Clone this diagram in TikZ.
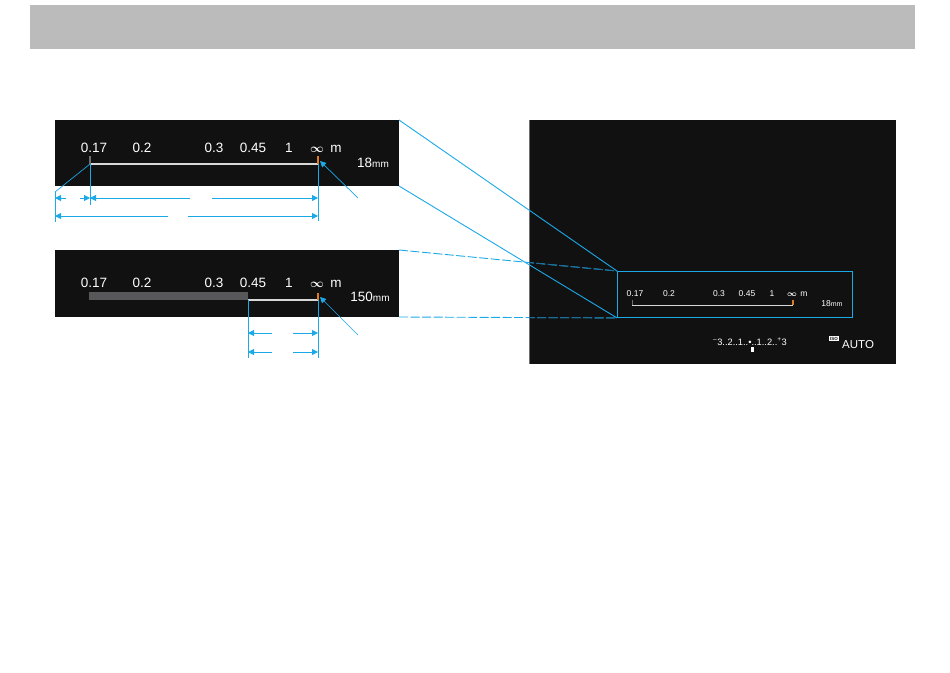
\documentclass[tikz,border=0pt]{standalone}
\usepackage{amsmath}
\usepackage{fontspec}
\setmainfont{Liberation Sans}
\usepackage{tikz}
\usetikzlibrary{arrows.meta, positioning, calc}
\definecolor{HeadGray}{HTML}{BBBBBB}
\definecolor{ScreenBlack}{HTML}{111111}
\definecolor{GuideCyan}{HTML}{1BA9E8}
\definecolor{GuideDark}{HTML}{1A6E9A}
\definecolor{TickOrange}{HTML}{E07B20}
\definecolor{TickGray}{HTML}{6E6E6E}
\definecolor{RangeGray}{HTML}{58585A}
\definecolor{BarWhite}{HTML}{D8D8D8}
\tikzset{
    % dark lcd strips
    lcd panel/.style={
        rectangle,
        fill=ScreenBlack,
        inner sep=0pt,
        outer sep=0pt,
        anchor=north west
    },
    % distance scale labels
    scale label/.style={
        text=white,
        anchor=base,
        inner sep=0pt,
        font=\fontsize{13.5}{14}\selectfont
    },
    small label/.style={
        scale label,
        font=\fontsize{8.5}{9}\selectfont
    },
    guide line/.style={
        GuideCyan,
        line width=0.9pt
    },
    guide dashed/.style={
        guide line,
        dash pattern=on 9pt off 2.5pt
    },
    dim arrow/.style={
        guide line,
        -{Triangle[length=6pt,width=6pt]}
    }
}

\begin{document}
\begin{tikzpicture}[x=1pt, y=-1pt]
        \useasboundingbox[fill=white] (0,0) rectangle (950,672);

        % header bar
        \fill[HeadGray] (30,5) rectangle (915,49);

        % Panel 1 (18mm)
        \node[lcd panel, minimum width=344pt, minimum height=66pt] (p1) at (55,120) {};
        \node[scale label] (p1a) at (94,152) {0.17};
        \node[scale label] (p1b) at (142,152) {0.2};
        \node[scale label] (p1c) at (214,152) {0.3};
        \node[scale label] (p1d) at (253,152) {0.45};
        \node[scale label] (p1e) at (289,152) {1};
        \node[scale label] (p1f) at (317,152) {\large$\boldsymbol{\infty}$};
        \node[scale label] (p1g) at (336,152) {m};
        \node[scale label] (p1z) at (373,167) {18{\fontsize{10}{10}\selectfont mm}};
        \coordinate (p1L) at (90,164);
        \coordinate (p1R) at (318,164);
        \draw[BarWhite, line width=1.6pt] (p1L) -- (p1R);
        \draw[TickGray, line width=2.4pt] (p1L) -- ++(0,-8);
        \draw[TickOrange, line width=2.4pt] (p1R) -- ++(0,-8);

        % Panel 2 (150mm)
        \node[lcd panel, minimum width=344pt, minimum height=67pt] (p2) at (55,250) {};
        \node[scale label] (p2a) at (94,287) {0.17};
        \node[scale label] (p2b) at (142,287) {0.2};
        \node[scale label] (p2c) at (214,287) {0.3};
        \node[scale label] (p2d) at (253,287) {0.45};
        \node[scale label] (p2e) at (289,287) {1};
        \node[scale label] (p2f) at (317,287) {\large$\boldsymbol{\infty}$};
        \node[scale label] (p2g) at (336,287) {m};
        \node[scale label] (p2z) at (370,301) {150{\fontsize{10}{10}\selectfont mm}};
        \coordinate (p2L) at (248,300);
        \coordinate (p2R) at (318,300);
        \fill[RangeGray] (89,292) rectangle (p2L);
        \draw[BarWhite, line width=1.2pt] (p2L) -- (p2R);
        \draw[TickOrange, line width=2.4pt] (p2R) -- ++(0,-7);

        % Screen
        \node[lcd panel, minimum width=367pt, minimum height=244pt] (scr) at (529,120) {};
        \draw[TickGray, line width=0.8pt] (scr.north west) -- (scr.south west);
        \node[small label] (sa) at (635,296) {0.17};
        \node[small label] (sb) at (669,296) {0.2};
        \node[small label] (sc) at (719,296) {0.3};
        \node[small label] (sd) at (747,296) {0.45};
        \node[small label] (se) at (772,296) {1};
        \node[small label] (sf) at (792,296) {$\boldsymbol{\infty}$};
        \node[small label] (sg) at (804,296) {m};
        \node[small label] (sz) at (832,306) {18{\fontsize{7}{7}\selectfont mm}};
        \coordinate (sL) at (632,305);
        \coordinate (sR) at (793,305);
        \draw[BarWhite, line width=1pt] (sL) -- (sR);
        \draw[TickGray, line width=1pt] (sL) -- ++(0,-5);
        \draw[TickOrange, line width=1.6pt] (sR) -- ++(0,-5);
        \node[small label, font=\fontsize{9.3}{9}\selectfont] (expo) at (750,345)
            {\textsuperscript{--}3..2..1..\textbullet..1..2..\textsuperscript{+}3};
        \fill[white] (750.5,347) rectangle (753.5,352);
        \node[fill=white, inner xsep=0.8pt, inner ysep=0.6pt, font=\fontsize{4.5}{4.5}\selectfont\bfseries, text=ScreenBlack] (iso) at (834,338.5) {ISO};
        \node[scale label, font=\fontsize{11.5}{12}\selectfont, anchor=base west] (auto) at (842,348) {AUTO};

        % zoom frame on screen
        \node[draw=GuideCyan, line width=0.9pt, minimum width=235pt, minimum height=46pt, inner sep=0pt, anchor=north west] (zbox) at (617,271) {};

        % guide lines to the zoom frame
        \draw[guide line] (p1.north east) -- (zbox.north west);
        \draw[guide line] (p1.south east) -- (zbox.south west);
        \draw[guide dashed] (p2.north east) -- (zbox.north west);
        \draw[guide dashed] (p2.south east) -- (zbox.south west);
        \begin{scope}
            \clip (scr.north west) rectangle (scr.south east);
            \draw[guide dashed, GuideDark] (p2.north east) -- (zbox.north west);
            \draw[guide dashed, GuideDark] (p2.south east) -- (zbox.south west);
        \end{scope}

        % extension lines, panel 1
        \coordinate (e0) at (55,192);
        \draw[guide line] (p1L) -- (90,205);
        \draw[guide line] (p1R) -- (318,221);
        \draw[guide line] (e0) -- (55,222);
        \draw[guide line, line width=0.7pt] (e0) -- (p1L);

        % dimension rows, panel 1
        \draw[dim arrow] (66,198) -- (55,198);
        \draw[dim arrow] (80,198) -- (90,198);
        \draw[dim arrow] (190,198) -- (90,198);
        \draw[dim arrow] (212,198) -- (318,198);
        \draw[dim arrow] (168,216) -- (55,216);
        \draw[dim arrow] (188,216) -- (318,216);

        % leader to infinity tick, panel 1
        \coordinate (q1) at (358,198);
        \draw[dim arrow, line width=0.7pt] (q1) -- (320,161);

        % extension lines, panel 2
        \draw[guide line] (p2L) -- (248,358);
        \draw[guide line] (p2R) -- (318,358);
        \draw[dim arrow] (272,333) -- (248,333);
        \draw[dim arrow] (293,333) -- (318,333);
        \draw[dim arrow] (272,352) -- (248,352);
        \draw[dim arrow] (293,352) -- (318,352);

        % leader to infinity tick, panel 2
        \coordinate (q2) at (358,335);
        \draw[dim arrow, line width=0.7pt] (q2) -- (320,297);
    \end{tikzpicture}
\end{document}
